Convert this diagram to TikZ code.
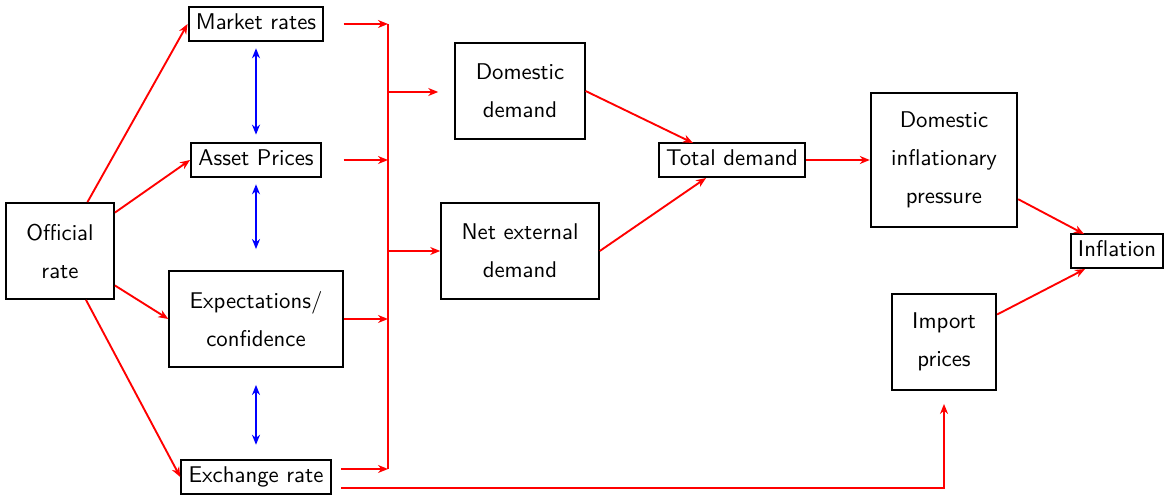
\documentclass[tikz,border=0pt]{standalone}
\usetikzlibrary{arrows.meta,calc}
\begin{document}
\begin{tikzpicture}[x=0.4525pt,y=-0.4525pt,
  box/.style={draw=black,line width=0.9pt,font=\sffamily\fontsize{10.3}{17.2}\selectfont},
  onebox/.style={box,text height=7pt,text depth=2pt},
  twobox/.style={box,align=center,inner xsep=9.2pt,minimum height=43.4pt},
  threebox/.style={twobox,minimum height=60.6pt},
  redline/.style={red,line width=0.85pt},
  redarrow/.style={redline,-{Stealth[length=4.5pt,width=3.6pt,inset=1.4pt]}},
  bluearrow/.style={blue,line width=0.85pt,{Stealth[length=4.5pt,width=3.6pt,inset=1.4pt]}-{Stealth[length=4.5pt,width=3.6pt,inset=1.4pt]}}]
\useasboundingbox (0,0) rectangle (1165,498);

% boxes
\node[twobox] (off) at (60,251) {Official\\rate};
\node[onebox] (mr) at (256,24) {Market rates};
\node[onebox] (ap) at (256,160) {Asset Prices};
\node[twobox] (ex) at (256,319) {Expectations/\\confidence};
\node[onebox] (xr) at (256,477) {Exchange rate};
\node[twobox] (dd) at (520,91) {Domestic\\demand};
\node[twobox] (ne) at (520,251) {Net external\\demand};
\node[onebox] (td) at (732,160) {Total demand};
\node[threebox] (dip) at (944,160) {Domestic\\inflationary\\pressure};
\node[twobox] (ip) at (944,342) {Import\\prices};
\node[onebox] (inf) at (1117,251) {Inflation};

% helper points
\coordinate (bus) at (388,24);
\coordinate (xa) at (341,469);
\coordinate (xb) at (341,488);
\coordinate (tdin1) at (693,143);
\coordinate (tdin2) at (706,178);
\coordinate (inf1) at (1084,234);
\coordinate (inf2) at (1085,269);

% official rate to the channels
\draw[redarrow] (off) -- (mr.west);
\draw[redarrow] (off) -- (ap.west);
\draw[redarrow] (off) -- (ex.west);
\draw[redarrow] (off) -- (xr.west);

% links between channels
\draw[bluearrow,shorten <=2.7pt,shorten >=3.2pt] (mr.south) -- (ap.north);
\draw[bluearrow,shorten <=2.7pt,shorten >=9.5pt] (ap.south) -- (ex.north);
\draw[bluearrow,shorten <=7.7pt,shorten >=6.3pt] (ex.south) -- (xr.north);

% channels into the collector
\draw[redarrow] (ex.east |- mr) -- (bus |- mr);
\draw[redarrow] (ex.east |- ap) -- (bus |- ap);
\draw[redarrow] (ex.east) -- (bus |- ex);
\draw[redarrow] (xa) -- (bus |- xa);
\draw[redline] (bus) -- (bus |- xa);

% collector to demand
\draw[redarrow] ($(bus |- dd.east)+(0,1)$) -- ($(ne.west |- dd.east)+(-2,1)$);
\draw[redarrow] (bus |- ne) -- (ne.west);

% demand to inflation
\draw[redarrow] (dd.east) -- (tdin1);
\draw[redarrow] (ne.east) -- (tdin2);
\draw[redarrow] (td.east) -- (dip.west);
\draw[redarrow] (dip) -- (inf1);
\draw[redarrow] (ip) -- (inf2);

% exchange rate to import prices
\draw[redarrow] (xb) -| ($(ip.south)+(0,13)$);
\end{tikzpicture}
\end{document}
